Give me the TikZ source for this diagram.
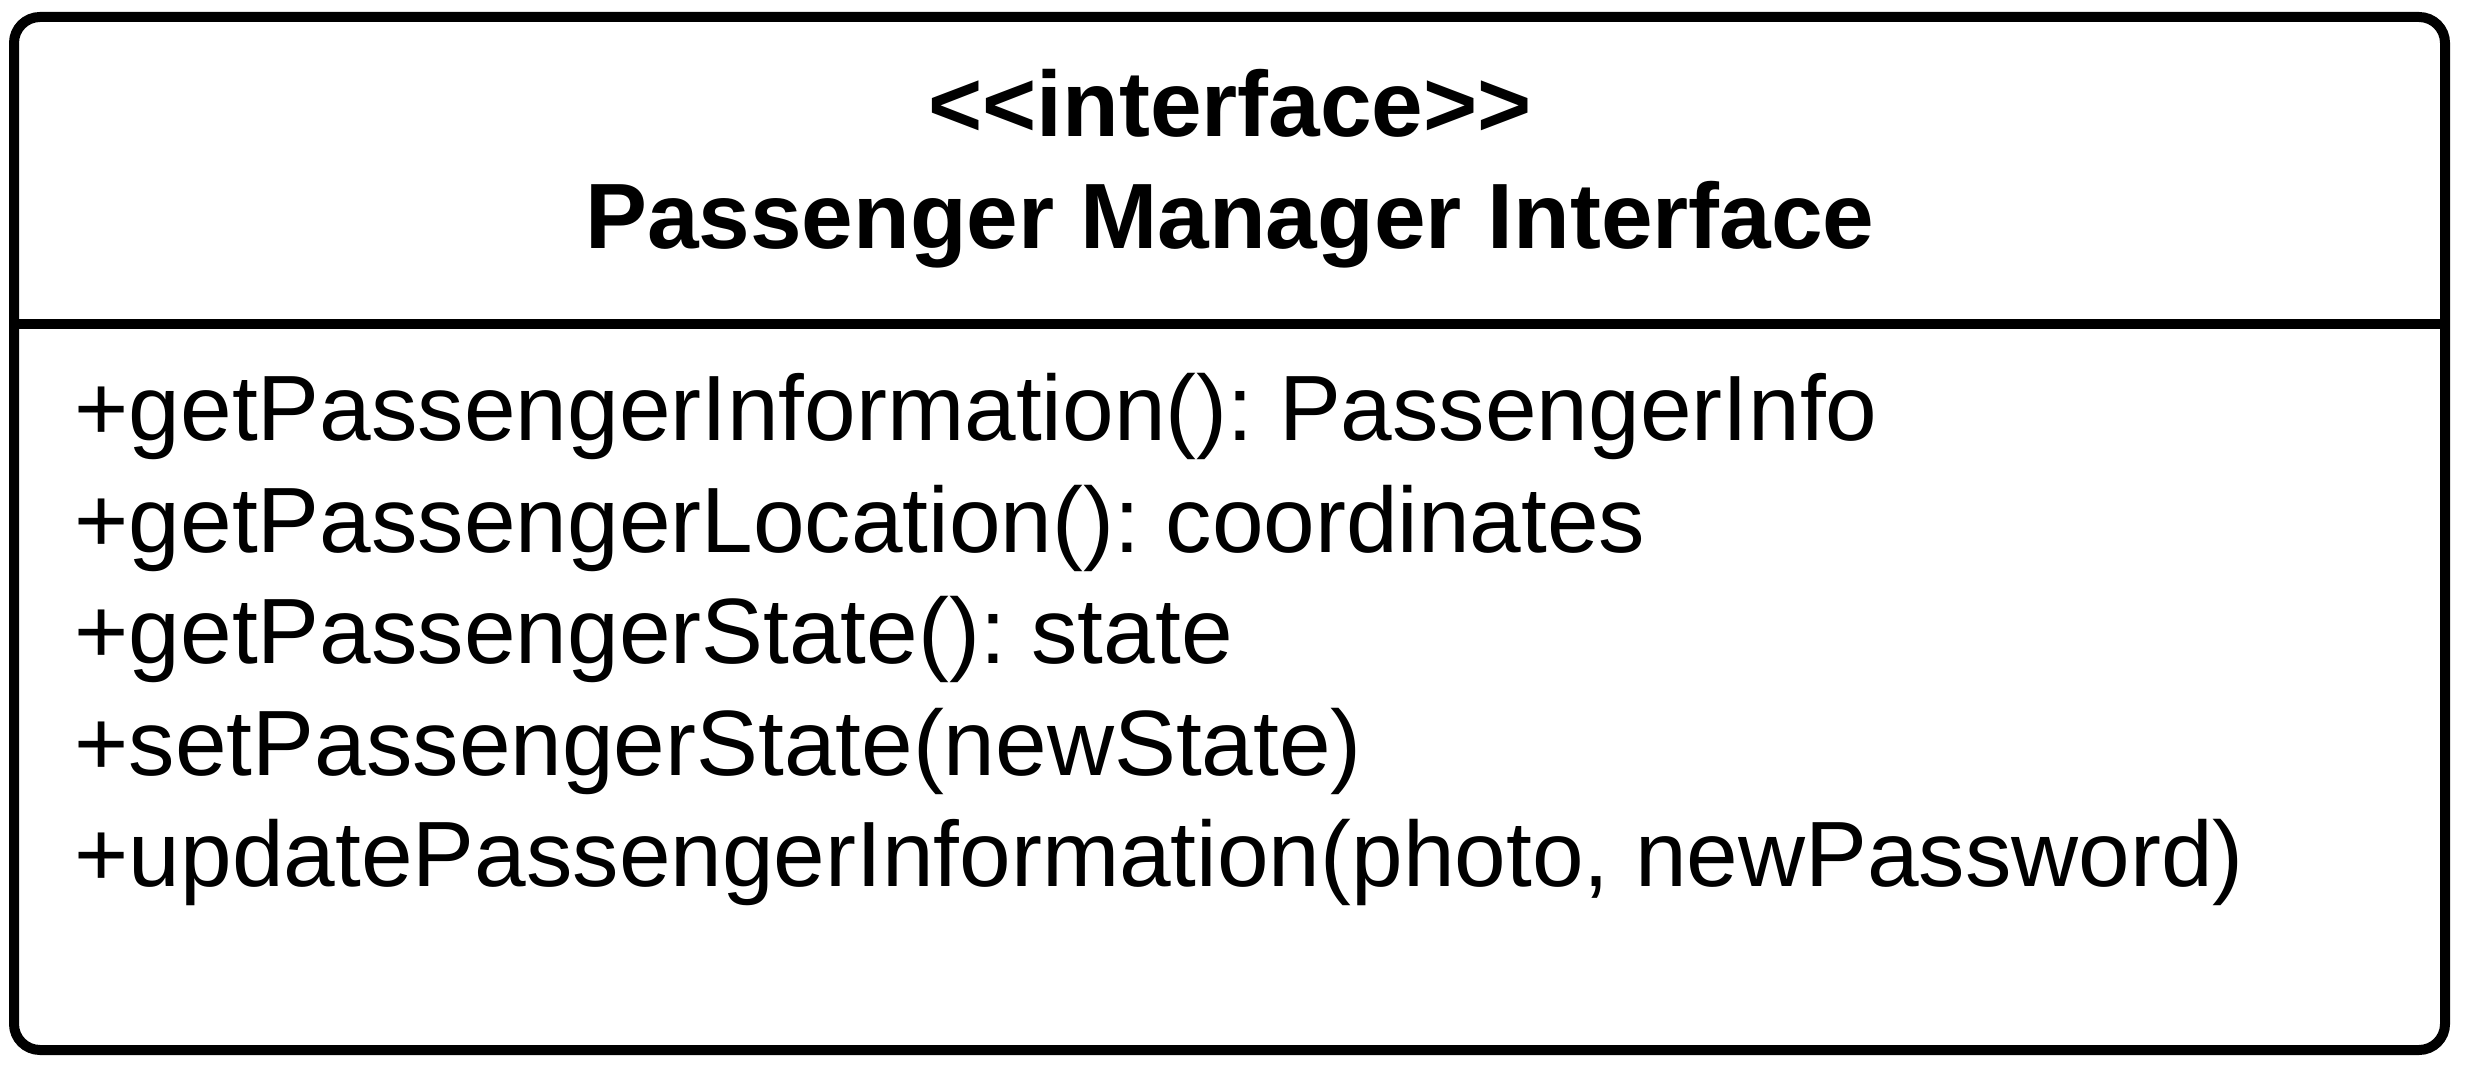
\documentclass[tikz,border=0pt]{standalone}
\usepackage{fontspec}
\setmainfont{Liberation Sans}
\usepackage{tikz}
\usetikzlibrary{positioning}
\frenchspacing

\begin{document}
\begin{tikzpicture}[x=0.25pt, y=-0.25pt,
  title/.style={anchor=base, inner sep=0pt, font=\fontsize{23.2}{27.9}\selectfont\bfseries},
  method/.style={anchor=base west, inner sep=0pt, font=\fontsize{23.2}{27.9}\selectfont}]

\useasboundingbox (0,0) rectangle (2471,1077);

% Class box
\draw[line width=2.5pt, rounded corners=6.5pt] (14,17) rectangle (2445,1050);
\draw[line width=2.5pt] (14,324) -- (2445,324);

% Name compartment
\node[title] (stereo) at (1230,137) {<\kern0pt<interface>\kern0pt>};
\node[title] (name) at (1230,249) {Passenger Manager Interface};

% Operations
\node[method] (op1) at (74,441) {+getPassengerInformation(): PassengerInfo};
\node[method] (op2) at (74,553) {+getPassengerLocation(): coordinates};
\node[method] (op3) at (74,664) {+getPassengerState(): state};
\node[method] (op4) at (74,776) {+setPassengerState(newState)};
\node[method] (op5) at (74,887) {+updatePassengerInformation(photo, newPassword)};

\end{tikzpicture}
\end{document}
